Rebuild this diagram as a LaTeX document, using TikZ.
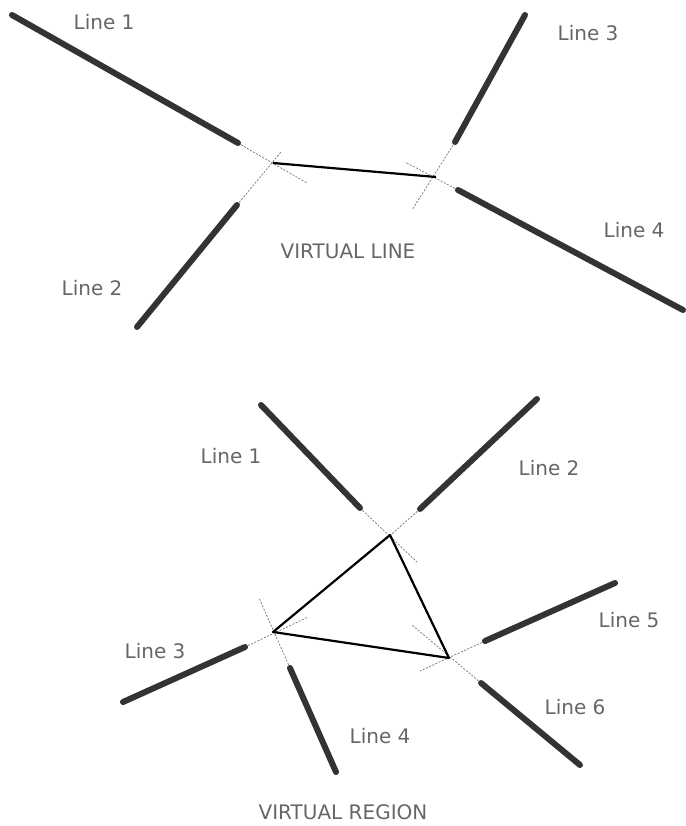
\documentclass[tikz,border=0pt]{standalone}
\usepackage{fontspec}
\setsansfont{DejaVu Sans}
\usetikzlibrary{calc}

\begin{document}
\begin{tikzpicture}[x=1pt,y=-1pt,
    seg/.style={line width=6pt,line cap=round,draw=black!80},
    ext/.style={line width=0.7pt,draw=black!55,dash pattern=on 2pt off 1.5pt},
    virt/.style={line width=2.2pt,draw=black,line join=round},
    lbl/.style={font=\sffamily\fontsize{20}{20}\selectfont,text=black!60}]

\useasboundingbox (0,0) rectangle (685,826);

% Virtual line: end points
\coordinate (p1) at (12,15);   \coordinate (q1) at (238,143);
\coordinate (p2) at (137,327); \coordinate (q2) at (237,205);
\coordinate (p3) at (525,15);  \coordinate (q3) at (455,142);
\coordinate (p4) at (683,310); \coordinate (q4) at (458,190);
\coordinate (va) at (273,163); \coordinate (vb) at (436,177);

% Extensions
\draw[ext] (q1) -- (307,183);
\draw[ext] (q2) -- (281,152);
\draw[ext] (q3) -- (412,210);
\draw[ext] (q4) -- (405,162);

% Lines
\foreach \i in {1,...,4}
  \draw[seg] (p\i) -- (q\i);
\draw[virt] (va) -- (vb);

\node[lbl] (t1) at (104,22) {Line 1};
\node[lbl] (t2) at (92,288) {Line 2};
\node[lbl] (t3) at (588,33) {Line 3};
\node[lbl] (t4) at (634,230) {Line 4};
\node[lbl] (vl) at (348,251) {VIRTUAL LINE};

% Virtual region: end points
\coordinate (r1) at (261,405); \coordinate (s1) at (360,508);
\coordinate (r2) at (537,399); \coordinate (s2) at (420,509);
\coordinate (r3) at (123,702); \coordinate (s3) at (245,647);
\coordinate (r4) at (336,772); \coordinate (s4) at (290,668);
\coordinate (r5) at (615,583); \coordinate (s5) at (485,641);
\coordinate (r6) at (580,765); \coordinate (s6) at (481,683);
\coordinate (ka) at (390,535);
\coordinate (kb) at (273,632);
\coordinate (kc) at (449,658);

% Extensions
\draw[ext] (s1) -- (417,562);
\draw[ext] (s2) -- (385,540);
\draw[ext] (s3) -- (308,617);
\draw[ext] (s4) -- (259,598);
\draw[ext] (s5) -- (420,671);
\draw[ext] (s6) -- (412,625);

% Lines
\foreach \i in {1,...,6}
  \draw[seg] (r\i) -- (s\i);
\draw[virt] (ka) -- (kb) -- (kc) -- cycle;

\node[lbl] (u1) at (231,456) {Line 1};
\node[lbl] (u2) at (549,468) {Line 2};
\node[lbl] (u3) at (155,651) {Line 3};
\node[lbl] (u4) at (380,736) {Line 4};
\node[lbl] (u5) at (629,620) {Line 5};
\node[lbl] (u6) at (575,707) {Line 6};
\node[lbl] (vr) at (343,812) {VIRTUAL REGION};

\end{tikzpicture}
\end{document}
